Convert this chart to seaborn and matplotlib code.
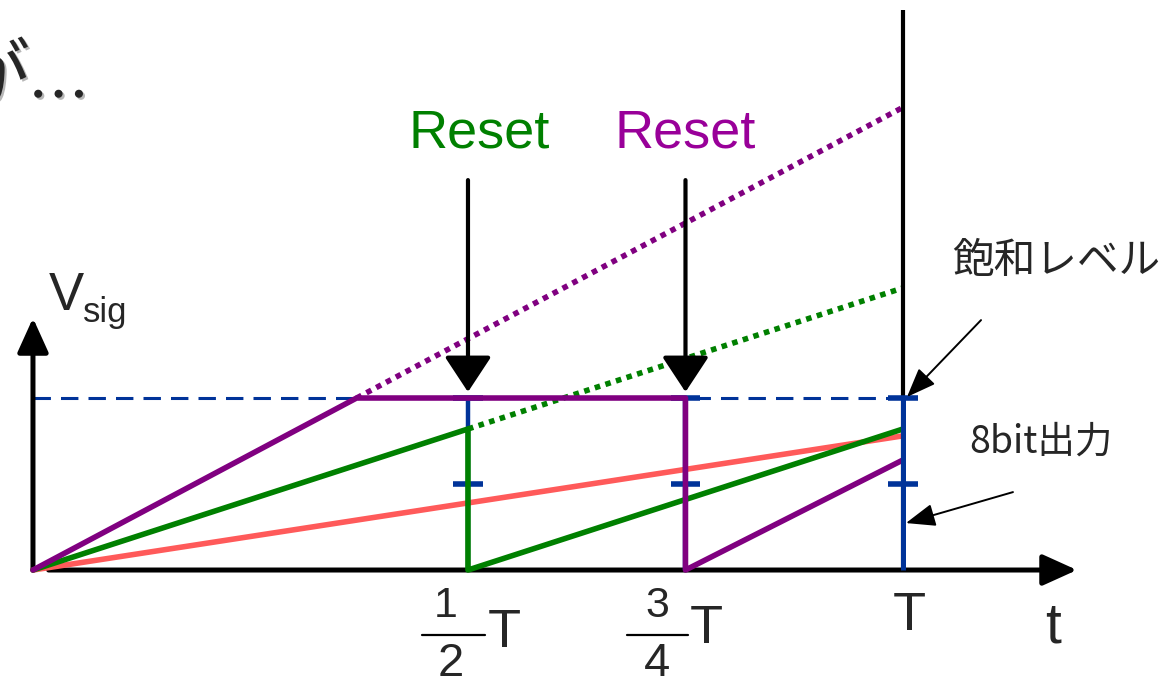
import matplotlib
matplotlib.use("Agg")
import matplotlib.pyplot as plt
import matplotlib.patheffects as pe
import seaborn as sns

# Time is in units of the exposure period T, signal in units of the saturation level
reset_times = [0.5, 0.75]
frame_end = 1.0
sat_level = 1.0
output_ticks = [0.5, 1.0]

# bright pixel (purple): saturates, is reset at 3/4 T
purple_t = [0.0, 0.372, 0.75, 0.75, 1.0]
purple_v = [0.0, 1.0, 1.0, 0.0, 0.64]
purple_free_t = [0.372, 1.0]
purple_free_v = [1.0, 2.69]

# medium pixel (green): reset at 1/2 T
green_t = [0.0, 0.5, 0.5, 1.0]
green_v = [0.0, 0.82, 0.0, 0.82]
green_free_t = [0.5, 1.0]
green_free_v = [0.82, 1.64]

# dark pixel (red): never reset
red_t = [0.0, 1.0]
red_v = [0.0, 0.78]

reset_labels = ["Reset", "Reset"]
reset_colors = ["#008000", "#990099"]
frac_num = ["1", "3"]
frac_den = ["2", "4"]

PURPLE = "#800080"
GREEN = "#008000"
RED = "#FF5A5A"
BLUE = "#003399"

sns.set_theme(style="white")
plt.rcParams["font.family"] = ["Liberation Sans", "Noto Sans CJK JP", "DejaVu Sans"]
JP = ["Noto Sans CJK JP", "DejaVu Sans"]

fig = plt.figure(figsize=(11.74, 6.77), dpi=100)
ax = fig.add_axes([0, 0, 1, 1])
ax.set_xlim(-0.0379, 1.3115)
ax.set_ylim(-0.622, 3.314)
ax.axis("off")

# saturation level
ax.plot([0, frame_end], [sat_level, sat_level], color=BLUE, lw=2.2,
        ls=(0, (5.7, 3.3)), zorder=1)

# axes with arrow heads
ax.annotate("", xy=(1.2, 0), xytext=(0.018, 0),
            arrowprops=dict(arrowstyle="-|>,head_length=21,head_width=9.5",
                            mutation_scale=1, lw=3.6, color="black",
                            shrinkA=0, shrinkB=0), zorder=1.5)
ax.annotate("", xy=(0, 1.465), xytext=(0, 0),
            arrowprops=dict(arrowstyle="-|>,head_length=21,head_width=9.5",
                            mutation_scale=1, lw=3.6, color="black",
                            shrinkA=0, shrinkB=0), zorder=1.5)

# signal traces
sns.lineplot(x=red_t, y=red_v, sort=False, estimator=None, color=RED,
             lw=4, ax=ax, zorder=2)

# readout columns at the reset times
ax.vlines(reset_times, 0, sat_level, color=BLUE, lw=3.2, zorder=2.5)
for tr in reset_times:
    ax.hlines(output_ticks, tr - 0.0172, tr + 0.0172, color=BLUE, lw=4, zorder=2.5)

sns.lineplot(x=purple_free_t, y=purple_free_v, sort=False, estimator=None,
             color=PURPLE, lw=4, ls=(0, (1, 1)), dash_capstyle="butt", ax=ax, zorder=3)
sns.lineplot(x=green_free_t, y=green_free_v, sort=False, estimator=None,
             color=GREEN, lw=4, ls=(0, (1, 1)), dash_capstyle="butt", ax=ax, zorder=3)
sns.lineplot(x=green_t, y=green_v, sort=False, estimator=None, color=GREEN,
             lw=4, ax=ax, zorder=3.1)
sns.lineplot(x=purple_t, y=purple_v, sort=False, estimator=None, color=PURPLE,
             lw=4, ax=ax, zorder=3.2)

# end of frame
ax.vlines([frame_end], 0, 3.256, color="black", lw=3, zorder=3.5)
ax.vlines([frame_end], 0, sat_level, color=BLUE, lw=3.6, zorder=4)
ax.hlines(output_ticks, frame_end - 0.0172, frame_end + 0.0172, color=BLUE, lw=4, zorder=4)

# reset arrows and labels
for tr, lab, col, dx in zip(reset_times, reset_labels, reset_colors, [0.0132, -0.0006]):
    ax.annotate("", xy=(tr, 1.035), xytext=(tr, 2.267),
                arrowprops=dict(arrowstyle="-|>,head_length=22,head_width=14.5",
                                mutation_scale=1, lw=3, color="black",
                                shrinkA=0, shrinkB=0), zorder=5)
    ax.text(tr + dx, 2.459, lab, color=col, fontsize=39, ha="center", va="baseline")

# time axis labels
for tr, num, den, bar_l, bar_r, num_dx, den_dx, t_x, t_y in zip(
        reset_times, frac_num, frac_den, [0.447, 0.683], [0.5195, 0.753],
        [-0.026, -0.032], [-0.020, -0.033], [0.523, 0.755], [-0.448, -0.424]):
    ax.text(tr + num_dx, -0.275, num, fontsize=31, ha="center", va="baseline")
    ax.plot([bar_l, bar_r], [-0.378, -0.378], color="black", lw=1.6)
    ax.text(tr + den_dx, -0.615, den, fontsize=34, ha="center", va="baseline")
    ax.text(t_x, t_y, "T", fontsize=39, ha="left", va="baseline")
ax.text(frame_end + 0.007, -0.349, "T", fontsize=39, ha="center", va="baseline")
ax.text(1.172, -0.419, "t", fontsize=41, ha="center", va="baseline")

# signal axis label
ax.text(0.018, 1.512, "V", fontsize=38, ha="left", va="baseline")
ax.text(0.057, 1.442, "sig", fontsize=25, ha="left", va="baseline")

# annotations on the right
ax.text(1.176, 1.791, "飽和レベル", fontsize=30, family=JP, ha="center", va="center")
ax.annotate("", xy=(1.0046, 1.006), xytext=(1.0897, 1.453),
            arrowprops=dict(arrowstyle="-|>,head_length=18,head_width=7",
                            mutation_scale=1, lw=1.4, color="black",
                            shrinkA=0, shrinkB=0), zorder=5)
ax.text(1.159, 0.744, "8bit出力", fontsize=27, family=JP, ha="center", va="center")
ax.annotate("", xy=(1.0034, 0.273), xytext=(1.1264, 0.453),
            arrowprops=dict(arrowstyle="-|>,head_length=18,head_width=7",
                            mutation_scale=1, lw=1.4, color="black",
                            shrinkA=0, shrinkB=0), zorder=5)

# heading fragment in the corner
shadow = [pe.SimplePatchShadow(offset=(1.5, -1.5), shadow_rgbFace="#888888", alpha=0.6),
          pe.Normal()]
ax.text(-0.0035, 2.733, "が", fontsize=54, family=JP, ha="right", va="baseline",
        path_effects=shadow)
ax.text(-0.0057, 2.634, "…", fontsize=44, family=JP, ha="left", va="baseline",
        path_effects=shadow)

fig.savefig("out.png", dpi=100)
